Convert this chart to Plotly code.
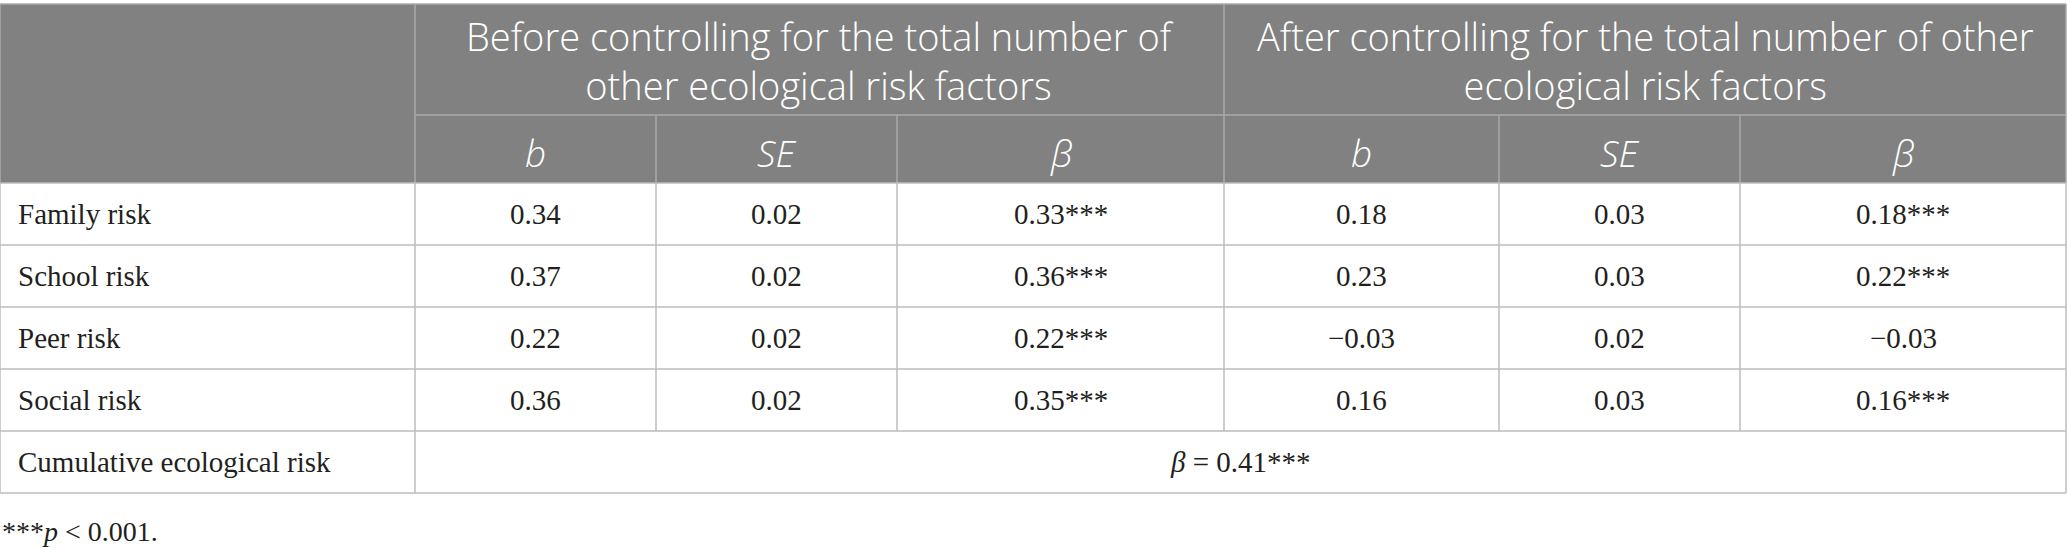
import plotly.graph_objects as go

# ---- data ----
row_labels = ["Family risk", "School risk", "Peer risk", "Social risk"]
group_titles = [
    "Before controlling for the total number of<br>other ecological risk factors",
    "After controlling for the total number of other<br>ecological risk factors",
]
sub_headers = ["<i>b</i>", "<i>SE</i>", "<i>β</i>"]
before_b = ["0.34", "0.37", "0.22", "0.36"]
before_se = ["0.02", "0.02", "0.02", "0.02"]
before_beta = ["0.33***", "0.36***", "0.22***", "0.35***"]
after_b = ["0.18", "0.23", "\u22120.03", "0.16"]
after_se = ["0.03", "0.03", "0.02", "0.03"]
after_beta = ["0.18***", "0.22***", "\u22120.03", "0.16***"]
cum_label = "Cumulative ecological risk"
cum_value = "<i>β</i> = 0.41***"
footnote = "***<i>p</i> < 0.001."

# ---- layout geometry (style) ----
W, H = 2067, 548
col_edges = [0, 415, 656, 897, 1224, 1499, 1740, 2066]
row_edges = [4, 115, 183, 245, 307, 369, 431, 493]
HEAD_BG = "#808180"
HEAD_LINE = "#a9aaa9"
BODY_LINE = "#bcbcbc"
TXT = "#231f20"
SANS = "Open Sans"
SERIF = "Liberation Serif"
HFS = 38
SFS = 37
BFS = 29

fig = go.Figure()
shapes = []
ann = []

def line(x0, y0, x1, y1, color, w=1.5):
    shapes.append(dict(type="line", xref="x", yref="y", x0=x0, y0=y0, x1=x1, y1=y1,
                       line=dict(color=color, width=w), layer="above"))

# header background
shapes.append(dict(type="rect", xref="x", yref="y", x0=col_edges[0], x1=col_edges[-1],
                   y0=row_edges[0], y1=row_edges[2], fillcolor=HEAD_BG,
                   line=dict(width=0), layer="below"))

# header lines
line(col_edges[0], row_edges[0], col_edges[-1], row_edges[0], HEAD_LINE)
line(col_edges[1], row_edges[1], col_edges[-1], row_edges[1], HEAD_LINE)
for ci in [1, 4]:
    line(col_edges[ci], row_edges[0], col_edges[ci], row_edges[2], HEAD_LINE)
for ci in [2, 3, 5, 6]:
    line(col_edges[ci], row_edges[1], col_edges[ci], row_edges[2], HEAD_LINE)
line(col_edges[0], row_edges[0], col_edges[0], row_edges[2], HEAD_LINE)
line(col_edges[-1], row_edges[0], col_edges[-1], row_edges[2], HEAD_LINE)

# body lines
for ri in range(2, len(row_edges)):
    line(col_edges[0], row_edges[ri], col_edges[-1], row_edges[ri], BODY_LINE)
for ci in range(len(col_edges)):
    y_end = row_edges[-2] if ci not in (0, 1, len(col_edges) - 1) else row_edges[-1]
    line(col_edges[ci], row_edges[2], col_edges[ci], y_end, BODY_LINE)

# header texts
for gi, title in enumerate(group_titles):
    x0, x1 = col_edges[1 + 3 * gi], col_edges[4 + 3 * gi]
    ann.append(dict(x=(x0 + x1) / 2, y=(row_edges[0] + row_edges[1]) / 2 + 1, text=title,
                    showarrow=False, xanchor="center", yanchor="middle",
                    font=dict(family=SANS, size=HFS, color="white", weight=300)))
for ci in range(1, 7):
    ann.append(dict(x=(col_edges[ci] + col_edges[ci + 1]) / 2,
                    y=(row_edges[1] + row_edges[2]) / 2 + 3,
                    text=sub_headers[(ci - 1) % 3], showarrow=False,
                    xanchor="center", yanchor="middle",
                    font=dict(family=SANS, size=SFS, color="white", weight=300)))

# body texts
cols = [before_b, before_se, before_beta, after_b, after_se, after_beta]
for ri, lab in enumerate(row_labels):
    yc = (row_edges[2 + ri] + row_edges[3 + ri]) / 2
    ann.append(dict(x=col_edges[0] + 16, y=yc, text=lab, showarrow=False,
                    xanchor="left", yanchor="middle",
                    font=dict(family=SERIF, size=BFS, color=TXT)))
    for ci, vals in enumerate(cols):
        ann.append(dict(x=(col_edges[ci + 1] + col_edges[ci + 2]) / 2, y=yc, text=vals[ri],
                        showarrow=False, xanchor="center", yanchor="middle",
                        font=dict(family=SERIF, size=BFS, color=TXT)))
yc = (row_edges[-2] + row_edges[-1]) / 2
ann.append(dict(x=col_edges[0] + 16, y=yc, text=cum_label, showarrow=False,
                xanchor="left", yanchor="middle",
                font=dict(family=SERIF, size=BFS, color=TXT)))
ann.append(dict(x=(col_edges[1] + col_edges[-1]) / 2, y=yc, text=cum_value, showarrow=False,
                xanchor="center", yanchor="middle",
                font=dict(family=SERIF, size=BFS, color=TXT)))
ann.append(dict(x=0, y=531, text=footnote, showarrow=False, xanchor="left", yanchor="middle",
                font=dict(family=SERIF, size=BFS - 1, color=TXT)))

fig.update_layout(
    width=W, height=H, margin=dict(l=0, r=0, t=0, b=0),
    paper_bgcolor="white", plot_bgcolor="white",
    xaxis=dict(range=[0, W], visible=False, fixedrange=True),
    yaxis=dict(range=[H, 0], visible=False, fixedrange=True),
    shapes=shapes, annotations=ann, showlegend=False,
)
fig.write_html("out.html", config={"displayModeBar": False},
               post_script="document.body.style.margin='0';")
